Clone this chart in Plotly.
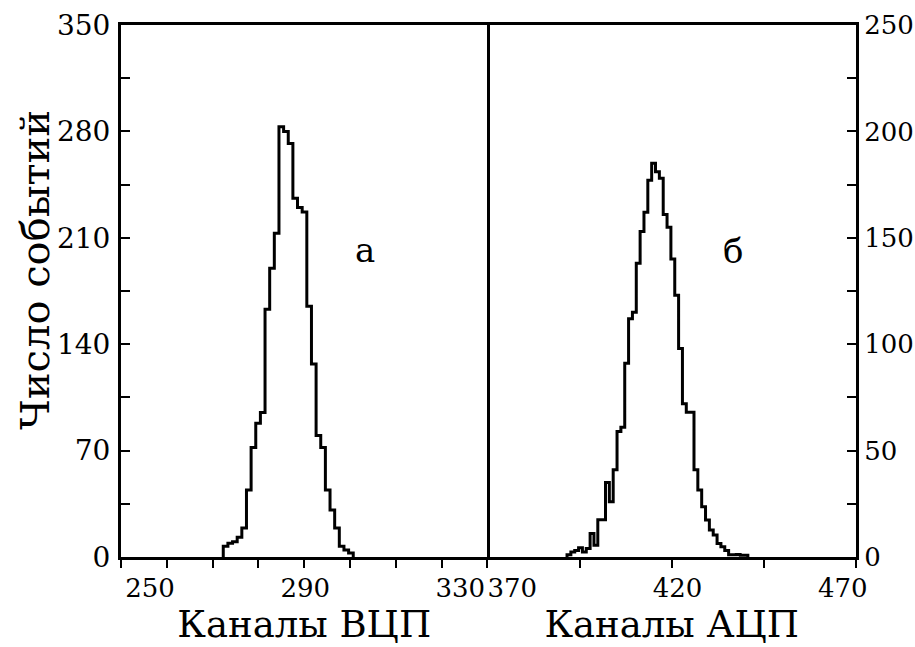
import numpy as np
import plotly.graph_objects as go

# ---- data ----
# Left panel: ВЦП channels (time-to-digital converter)
tdc_bin_start = 268.87
tdc_bin_width = 1.197
tdc_counts = [7, 9, 10, 13, 19, 44, 72, 88, 95, 163, 190, 213, 283, 280, 272,
              236, 230, 227, 165, 127, 80, 72, 44, 31, 19, 7, 4.6, 2.6]

# Right panel: АЦП channels (analog-to-digital converter)
adc_bin_start = 386.57
adc_bin_width = 1.164
adc_counts = [1, 2.3, 3, 4.4, 2.3, 4, 11, 5.5, 17.5, 17.5, 35, 26, 41, 59, 61,
              91, 112, 115, 138, 153, 162, 177, 185, 181, 178, 161, 155, 140,
              123, 98, 72, 68, 68, 41, 31.5, 23.6, 17.4, 12.7, 10.3, 6.4, 4.8,
              3, 1, 1, 1.2, 0.8, 0.8]

tdc_range = [242.5, 337]
adc_range = [362.5, 474]
tdc_ticks = [250, 290, 330]
adc_ticks = [370, 420, 470]
left_y_ticks = [0, 70, 140, 210, 280, 350]
right_y_ticks = [0, 50, 100, 150, 200, 250]

panel_labels = ["а", "б"]
x_titles = ["Каналы ВЦП", "Каналы АЦП"]
y_title = "Число событий"


def step_xy(start, width, counts):
    n = len(counts)
    edges = start + width * np.arange(n + 1)
    xs = [edges[0]] + list(edges)
    ys = [0] + list(counts) + [0]
    return xs, ys


FONT = "DejaVu Serif"
fig = go.Figure()

xs, ys = step_xy(tdc_bin_start, tdc_bin_width, tdc_counts)
fig.add_trace(go.Scatter(x=xs, y=ys, mode="lines", line=dict(color="black", width=3, shape="hv"),
                         xaxis="x", yaxis="y", showlegend=False, hoverinfo="skip"))
xs, ys = step_xy(adc_bin_start, adc_bin_width, adc_counts)
fig.add_trace(go.Scatter(x=xs, y=ys, mode="lines", line=dict(color="black", width=3, shape="hv"),
                         xaxis="x2", yaxis="y2", showlegend=False, hoverinfo="skip"))

split = 0.4986
xtickfont = dict(family=FONT, size=26, color="black")
ytickfont = dict(family=FONT, size=28, color="black")
titlefont = dict(family=FONT, size=37, color="black")

common_x = dict(showline=True, linewidth=3, linecolor="black", mirror=True, showgrid=False,
                zeroline=False, ticks="outside", ticklen=0, tickfont=xtickfont,
                ticklabelstandoff=6, automargin=False)
common_y = dict(showline=True, linewidth=3, linecolor="black", showgrid=False,
                zeroline=False, ticks="inside", ticklen=9, tickwidth=2, tickcolor="black",
                automargin=False)

fig.update_layout(
    width=915, height=647,
    margin=dict(l=121, r=59, t=25, b=90),
    paper_bgcolor="white", plot_bgcolor="white",
    xaxis=dict(domain=[0, split], range=tdc_range, tickmode="array", tickvals=tdc_ticks,
               anchor="y",
               minor=dict(tickmode="array", tickvals=list(np.linspace(tdc_range[0], tdc_range[1], 9)),
                          ticks="outside", ticklen=8, tickwidth=2, tickcolor="black"),
               title=dict(text=x_titles[0], font=titlefont, standoff=8),
               **common_x),
    yaxis=dict(domain=[0, 1], range=[0, 350], tickmode="array", tickvals=left_y_ticks,
               anchor="x", mirror=True, tickfont=ytickfont, ticklabelstandoff=2,
               minor=dict(dtick=35, ticks="inside", ticklen=9, tickwidth=2, tickcolor="black"),
               **common_y),
    xaxis2=dict(domain=[split, 1], range=adc_range, tickmode="array", tickvals=adc_ticks,
                anchor="y2",
                minor=dict(tickmode="array", tickvals=list(np.linspace(adc_range[0], adc_range[1], 5)),
                           ticks="outside", ticklen=8, tickwidth=2, tickcolor="black"),
                title=dict(text=x_titles[1], font=titlefont, standoff=8),
                **common_x),
    yaxis2=dict(domain=[0, 1], range=[0, 250], tickmode="array", tickvals=right_y_ticks,
                anchor="x2", side="right", mirror=False,
                tickfont=dict(family=FONT, size=26, color="black"),
                minor=dict(dtick=25, ticks="inside", ticklen=9, tickwidth=2, tickcolor="black"),
                **common_y),
)

# y-axis title placed as rotated text left of the tick labels
fig.add_annotation(x=-0.118, y=0.54, xref="paper", yref="paper", text=y_title, textangle=-90,
                   showarrow=False, xanchor="center", yanchor="middle",
                   font=dict(family=FONT, size=40, color="black"))

fig.add_annotation(x=305.5, y=202, xref="x", yref="y", text=panel_labels[0], showarrow=False,
                   font=dict(family=FONT, size=34, color="black"))
fig.add_annotation(x=436.8, y=144, xref="x2", yref="y2", text=panel_labels[1], showarrow=False,
                   font=dict(family=FONT, size=34, color="black"))

fig.write_html("out.html")
